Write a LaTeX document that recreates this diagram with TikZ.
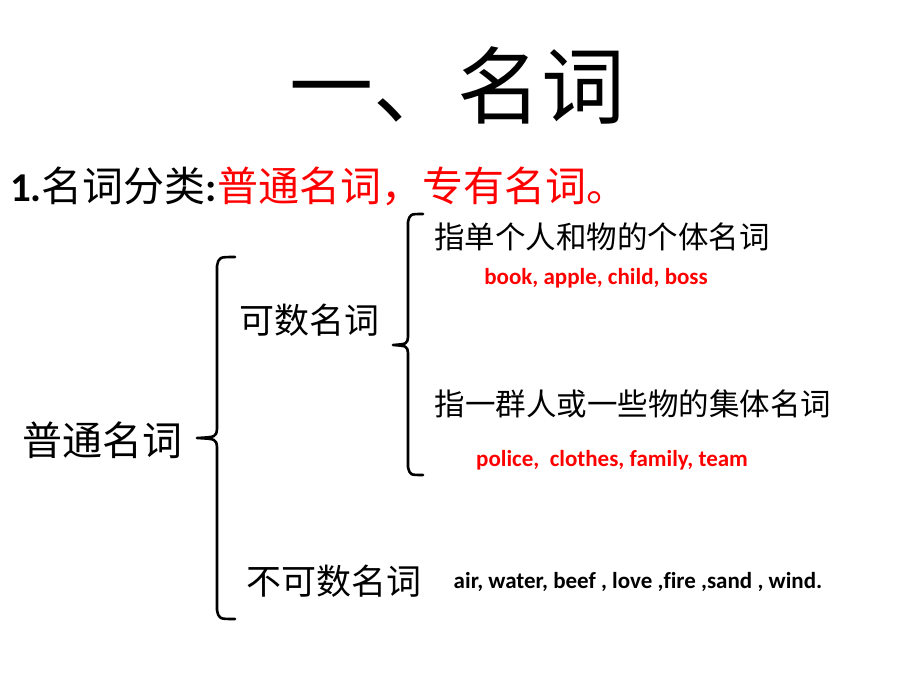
\documentclass[tikz,border=0pt]{standalone}
\usepackage{fontspec}
\setmainfont{Carlito}[Ligatures=NoCommon]
\newfontfamily\cjk{Noto Sans CJK SC}
\definecolor{nounred}{RGB}{255,0,0}
\tikzset{
  zh/.style={inner sep=0pt,font=\cjk\fontsize{#1}{#1}\selectfont},
  en/.style={inner sep=0pt,font=\bfseries\fontsize{#1}{#1}\selectfont},
  brak/.style={line width=2.6pt,line cap=round,line join=round}
}
\begin{document}
\begin{tikzpicture}[x=1pt,y=-1pt]
  \useasboundingbox (0,0) rectangle (920,690);
  % title
  \node[zh=84] (title) at (457,85) {一、名词};
  \node[anchor=base west,inner sep=0pt] (kinds) at (10,201)
    {{\bfseries\fontsize{41}{41}\selectfont 1.}{\cjk\fontsize{41}{41}\selectfont 名词分类}{\bfseries\fontsize{41}{41}\selectfont :}\textcolor{nounred}{\cjk\fontsize{41}{41}\selectfont 普通名词，专有名词。}};
  % brackets
  \coordinate (B1) at (197,438);
  \coordinate (B2) at (393,345);
  \draw[brak] (235,257) .. controls (219,257) .. (217,266) -- (217,429)
    .. controls (216,437) .. (B1) .. controls (216,439) .. (217,447)
    -- (217,610) .. controls (219,619) .. (235,619);
  \draw[brak] (423,214) .. controls (410,214) .. (408,222) -- (408,337)
    .. controls (407,344) .. (B2) .. controls (407,346) .. (408,353)
    -- (408,467) .. controls (410,475) .. (423,475);
  % labels
  \node[zh=40] (common) at (102,440) {普通名词};
  \node[zh=35] (count) at (309,320) {可数名词};
  \node[zh=35] (uncount) at (334,581) {不可数名词};
  \node[zh=30.5] (single) at (602,237) {指单个人和物的个体名词};
  \node[zh=30.5] (group) at (633,404) {指一群人或一些物的集体名词};
  \node[en=23,text=nounred] (ex1) at (596,278) {book, apple, child, boss};
  \node[en=23,text=nounred] (ex2) at (612,460) {police,\ \ clothes, family, team};
  \node[en=23] (ex3) at (638,582) {air, water, beef , love ,fire ,sand , wind.};
\end{tikzpicture}
\end{document}
